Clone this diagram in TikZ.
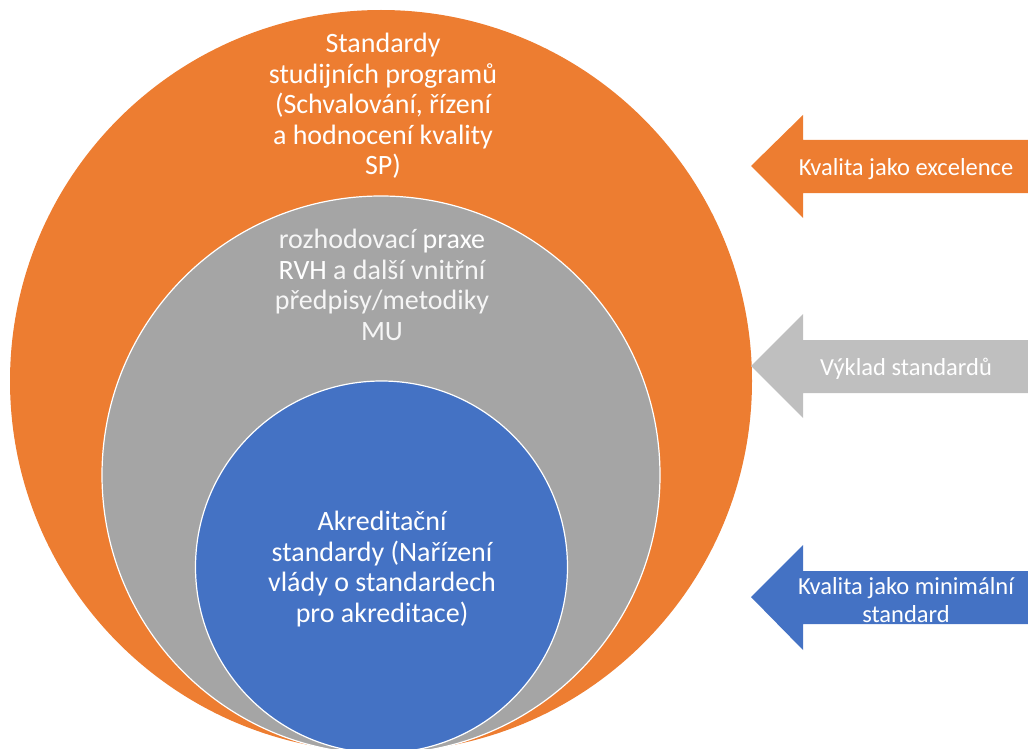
\documentclass[tikz,border=0pt]{standalone}
\usepackage{fontspec}
\setmainfont{Carlito}
\usepackage{tikz}
\definecolor{oranzova}{HTML}{ED7D31}
\definecolor{seda}{HTML}{A5A5A5}
\definecolor{svetleseda}{HTML}{BFBFBF}
\definecolor{modra}{HTML}{4472C4}

\begin{document}
\begin{tikzpicture}[x=1pt,y=-1pt,
    kruh/.style={circle,inner sep=0pt,draw=white,line width=1.2pt},
    popis/.style={align=center,text=white,font=\fontsize{28}{30.5}\selectfont},
    sipkatext/.style={align=center,text=white,font=\fontsize{24.5}{28}\selectfont}]
      \useasboundingbox (0,0) rectangle (1028,749);
      \begin{scope}
        \clip (0,0) rectangle (1028,749);
        \node[kruh,fill=oranzova,draw=none,minimum size=742pt](vnejsi) at (381,381){};
        \node[kruh,fill=seda,minimum size=558pt](stredni) at (381,475){};
        \node[kruh,fill=modra,minimum size=372pt](vnitrni) at (381.5,567){};
      \end{scope}
      \node[popis](tvnejsi) at (383,106){Standardy\\studijních programů\\(Schvalování, řízení\\a hodnocení kvality\\SP)};
      \node[popis,text=white!90!seda](tstredni) at (382,285){rozhodovací \textcolor{white}{praxe}\\\textcolor{white}{RVH} a další vnitřní\\předpisy/metodiky\\MU};
      \node[popis](tvnitrni) at (382,569){Akreditační\\standardy (Nařízení\\vlády o standardech\\pro akreditace)};
      % sipky
      \fill[oranzova] (751,166) -- (803,115) -- (803,140) -- (1028,140) -- (1028,193) -- (803,193) -- (803,218) -- cycle;
      \node[sipkatext](excelence) at (906,169){Kvalita jako excelence};
      \fill[svetleseda] (751,366) -- (803,314) -- (803,340) -- (1028,340) -- (1028,393) -- (803,393) -- (803,418) -- cycle;
      \node[sipkatext](vyklad) at (906,369){Výklad standardů};
      \fill[modra] (751,597) -- (803,545) -- (803,571) -- (1028,571) -- (1028,624) -- (803,624) -- (803,650) -- cycle;
      \node[sipkatext](minimum) at (906,600){Kvalita jako minimální\\standard};
\end{tikzpicture}
\end{document}
